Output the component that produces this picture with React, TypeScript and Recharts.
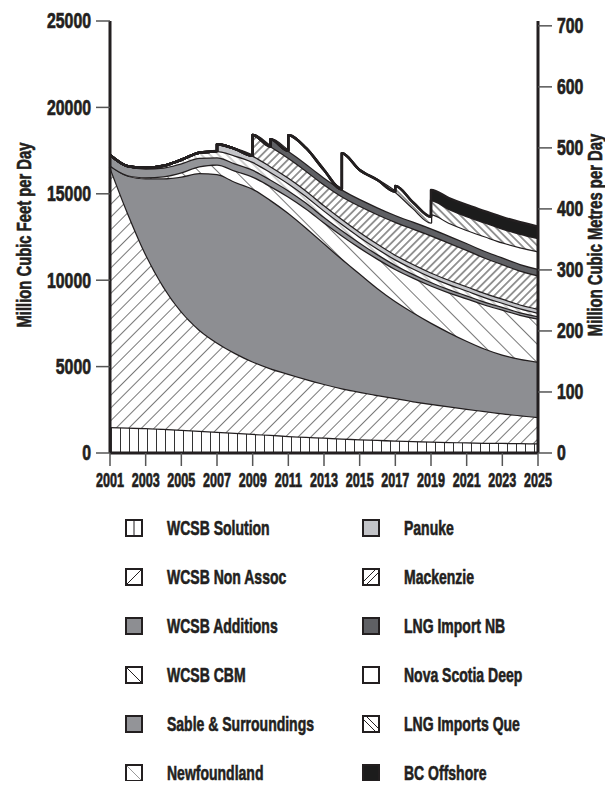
import { AreaChart, Area, XAxis, YAxis } from "recharts";

// supply by source, million cubic feet per day
const YEARS = [
  2001, 2002, 2003, 2004, 2005, 2006, 2007, 2008, 2009, 2010, 2011, 2012, 2013,
  2014, 2015, 2016, 2017, 2018, 2019, 2020, 2021, 2022, 2023, 2024, 2025,
];

const WCSB_SOLUTION = [
  1500, 1480, 1450, 1400, 1350, 1290, 1230, 1170, 1110, 1050, 990, 940, 890,
  840, 800, 760, 720, 690, 660, 640, 620, 600, 590, 575, 560,
];
const WCSB_NON_ASSOC = [
  15070, 12420, 10080, 8250, 6850, 5860, 5170, 4630, 4190, 3850, 3590, 3340,
  3110, 2910, 2750, 2590, 2460, 2310, 2190, 2060, 1940, 1830, 1710, 1615, 1520,
];
const WCSB_ADDITIONS = [
  80, 2150, 4370, 6250, 7800, 9050, 9750, 9900, 10000, 9750, 9320, 8770, 8150,
  7500, 6850, 6200, 5620, 5150, 4700, 4300, 3940, 3620, 3400, 3260, 3200,
];
const WCSB_CBM = [
  0, 30, 60, 120, 250, 400, 550, 650, 700, 800, 950, 1100, 1200, 1350, 1500,
  1700, 1850, 2000, 2150, 2300, 2450, 2550, 2600, 2550, 2500,
];
const SABLE = [
  600, 520, 500, 500, 520, 480, 420, 420, 400, 380, 360, 340, 320, 300, 280,
  260, 240, 220, 200, 190, 180, 170, 160, 150, 140,
];
const NEWFOUNDLAND = [
  0, 0, 50, 100, 200, 300, 350, 450, 450, 430, 400, 380, 370, 360, 340, 330,
  320, 310, 300, 290, 280, 260, 240, 220, 200,
];
const PANUKE = [
  0, 0, 0, 0, 0, 0, 400, 380, 360, 340, 330, 320, 310, 300, 290, 280, 270, 260,
  250, 250, 245, 240, 235, 230, 230,
];
const MACKENZIE = [
  0, 0, 0, 0, 0, 0, 0, 0, 1200, 1150, 1150, 1150, 1200, 1300, 1500, 1700, 1900,
  2050, 2150, 2150, 2100, 2050, 2000, 1960, 1930,
];
const LNG_IMPORT_NB = [
  0, 0, 0, 0, 0, 0, 0, 0, 0, 400, 400, 400, 400, 400, 400, 400, 400, 400, 400,
  400, 400, 390, 390, 380, 380,
];
const NOVA_SCOTIA_DEEP = [
  0, 0, 0, 0, 0, 0, 0, 0, 0, 0, 900, 900, 430, 2080, 1670, 1580, 1340, 780,
  820, 750, 755, 840, 865, 970, 1020,
];
const LNG_IMPORTS_QUE = [
  0, 0, 0, 0, 0, 0, 0, 0, 0, 0, 0, 0, 0, 0, 0, 0, 330, 330, 800, 800, 800, 800,
  800, 780, 760,
];
const BC_OFFSHORE = [
  0, 0, 0, 0, 0, 0, 0, 0, 0, 0, 0, 0, 0, 0, 0, 0, 0, 0, 600, 620, 640, 650,
  660, 660, 660,
];

// values just before a new source comes on stream in that year (vertical steps)
const STEP_BEFORE: Record<number, Record<string, number>> = {
  2007: { panuke: 0 },
  2009: { mackenzie: 0 },
  2010: { lngNB: 0 },
  2011: { nsDeep: 0 },
  2014: { nsDeep: 0 },
  2017: { lngQue: 0 },
  2019: { bcOffshore: 0, nsDeep: 345, lngQue: 330 },
};

const LEFT_TICKS = [0, 5000, 10000, 15000, 20000, 25000];
const RIGHT_TICKS = [0, 100, 200, 300, 400, 500, 600, 700];
const YEAR_TICKS = [2001, 2003, 2005, 2007, 2009, 2011, 2013, 2015, 2017, 2019, 2021, 2023, 2025];

const CF_PER_M3 = 35.3147;
const FONT = "'Liberation Sans', Arial, Helvetica, sans-serif";
const INK = "#231f20";

const SERIES = [
  { key: "solution", name: "WCSB Solution", values: WCSB_SOLUTION, fill: "url(#pSolution)", icon: "#fff", lines: [[9, 1, 9, 17]] },
  { key: "nonAssoc", name: "WCSB Non Assoc", values: WCSB_NON_ASSOC, fill: "url(#pNonAssoc)", icon: "#fff", lines: [[2, 16, 16, 2]] },
  { key: "additions", name: "WCSB Additions", values: WCSB_ADDITIONS, fill: "#8d8e92", icon: "#8d8e92", lines: [] },
  { key: "cbm", name: "WCSB CBM", values: WCSB_CBM, fill: "url(#pCbm)", icon: "#fff", lines: [[2, 2, 16, 16]] },
  { key: "sable", name: "Sable  & Surroundings", values: SABLE, fill: "#939498", icon: "#939498", lines: [] },
  { key: "newfoundland", name: "Newfoundland", values: NEWFOUNDLAND, fill: "url(#pNewf)", icon: "#fff", lines: [[2, 2, 16, 16]], lineColor: "#999" },
  { key: "panuke", name: "Panuke", values: PANUKE, fill: "#c3c4c8", icon: "#c3c4c8", lines: [] },
  { key: "mackenzie", name: "Mackenzie", values: MACKENZIE, fill: "url(#pMack)", icon: "#fff", lines: [[2, 13, 13, 2], [5, 16, 16, 5]] },
  { key: "lngNB", name: "LNG Import NB", values: LNG_IMPORT_NB, fill: "#5f6064", icon: "#5f6064", lines: [] },
  { key: "nsDeep", name: "Nova Scotia Deep", values: NOVA_SCOTIA_DEEP, fill: "#ffffff", icon: "#fff", lines: [] },
  { key: "lngQue", name: "LNG Imports Que", values: LNG_IMPORTS_QUE, fill: "url(#pQue)", icon: "#fff", lines: [[2, 5, 13, 16], [5, 2, 16, 13]] },
  { key: "bcOffshore", name: "BC Offshore", values: BC_OFFSHORE, fill: "#1c1c1c", icon: "#1c1c1c", lines: [] },
];

const rows: Record<string, number>[] = [];
YEARS.forEach((year, i) => {
  const row: Record<string, number> = { year };
  SERIES.forEach((s) => {
    row[s.key] = s.values[i];
  });
  const before = STEP_BEFORE[year];
  if (before) rows.push({ ...row, ...before });
  rows.push(row);
});

const CondTick = (props: any) => {
  const { x, y, payload, textAnchor, size, scale, dy } = props;
  return (
    <g transform={`translate(${x},${y + (dy || 0)}) scale(${scale},1)`}>
      <text
        x={0}
        y={0}
        textAnchor={textAnchor}
        dominantBaseline="central"
        fontSize={size}
        fontWeight="bold"
        fontFamily={FONT}
        fill={INK}
        stroke={INK}
        strokeWidth={0.7}
      >
        {payload.value}
      </text>
    </g>
  );
};

const Hatch = ({ id, gap, angle, color, width }: { id: string; gap: number; angle: number; color: string; width: number }) => (
  <pattern id={id} width={gap} height={gap} patternUnits="userSpaceOnUse" patternTransform={`rotate(${angle})`}>
    <rect width={gap} height={gap} fill="#fff" />
    <line x1={gap / 2} y1={0} x2={gap / 2} y2={gap} stroke={color} strokeWidth={width} />
  </pattern>
);

const textStyle = {
  whiteSpace: "nowrap" as const,
  fontFamily: FONT,
  fontWeight: "bold" as const,
  fontSize: 20,
  color: INK,
  WebkitTextStroke: `0.6px ${INK}`,
};

const LegendItem = ({ s, left, top }: { s: any; left: number; top: number }) => (
  <div style={{ position: "absolute", left, top, height: 18, display: "flex", alignItems: "center" }}>
    <svg width={18} height={18} style={{ display: "block" }}>
      <rect x={1} y={1} width={16} height={16} fill={s.icon} stroke={INK} strokeWidth={2} />
      {s.lines.map((l: number[], i: number) => (
        <line key={i} x1={l[0]} y1={l[1]} x2={l[2]} y2={l[3]} stroke={s.lineColor || INK} strokeWidth={1} />
      ))}
    </svg>
    <span
      style={{
        ...textStyle,
        position: "absolute",
        left: 42,
        top: -3,
        lineHeight: "24px",
        transform: "scaleX(0.7)",
        transformOrigin: "left center",
      }}
    >
      {s.name}
    </span>
  </div>
);

const axisTitle = (left: number, text: string) => (
  <div
    style={{
      ...textStyle,
      position: "absolute",
      left,
      top: 227,
      lineHeight: "20px",
      transform: "translate(-50%,-50%) rotate(-90deg) scaleX(0.74)",
    }}
  >
    {text}
  </div>
);

const LEGEND_TOPS = [511, 560, 609, 658, 707, 756];

export default function App() {
  return (
    <div style={{ position: "relative", width: 597, height: 773 }}>
      <AreaChart width={597} height={500} data={rows} margin={{ top: 13, right: 0, bottom: 0, left: 0 }}>
        <defs>
          <pattern id="pSolution" width={9} height={9} patternUnits="userSpaceOnUse">
            <rect width={9} height={9} fill="#fff" />
            <line x1={4.5} y1={0} x2={4.5} y2={9} stroke="#333" strokeWidth={1} />
          </pattern>
          <Hatch id="pNonAssoc" gap={9} angle={45} color="#555" width={0.8} />
          <Hatch id="pCbm" gap={13} angle={-45} color="#555" width={0.8} />
          <Hatch id="pNewf" gap={6} angle={-45} color="#888" width={0.8} />
          <Hatch id="pMack" gap={5.5} angle={45} color="#333" width={1} />
          <Hatch id="pQue" gap={5.5} angle={-45} color="#333" width={1} />
        </defs>
        <XAxis
          dataKey="year"
          type="number"
          domain={[2001, 2025]}
          ticks={YEAR_TICKS}
          height={55}
          tickSize={13}
          tickMargin={2}
          axisLine={{ stroke: INK, strokeWidth: 3 }}
          tickLine={{ stroke: "#555", strokeWidth: 1.5 }}
          interval={0}
          tick={(p: any) => <CondTick {...p} size={21} scale={0.6} dy={12} />}
        />
        <YAxis
          yAxisId="left"
          width={102}
          domain={[0, 25000]}
          ticks={LEFT_TICKS}
          tickSize={14}
          tickMargin={5}
          axisLine={{ stroke: INK, strokeWidth: 3 }}
          tickLine={{ stroke: "#555", strokeWidth: 1.5 }}
          interval={0}
          tick={(p: any) => <CondTick {...p} size={22} scale={0.72} />}
        />
        <YAxis
          yAxisId="right"
          orientation="right"
          width={67}
          domain={[0, 25000 / CF_PER_M3]}
          ticks={RIGHT_TICKS}
          allowDataOverflow
          tickSize={14}
          tickMargin={5}
          axisLine={{ stroke: INK, strokeWidth: 3 }}
          tickLine={{ stroke: "#555", strokeWidth: 1.5 }}
          interval={0}
          tick={(p: any) => <CondTick {...p} size={22} scale={0.72} />}
        />
        {SERIES.map((s) => (
          <Area
            key={s.key}
            yAxisId="left"
            type="monotone"
            dataKey={s.key}
            name={s.name}
            stackId="supply"
            stroke={INK}
            strokeWidth={2.5}
            strokeLinejoin="round"
            fill={s.fill}
            fillOpacity={1}
            dot={false}
            activeDot={false}
            isAnimationActive={false}
          />
        ))}
      </AreaChart>
      {axisTitle(16, "Million Cubic Feet per Day")}
      {axisTitle(587, "Million Cubic Metres per Day")}
      {SERIES.map((s, i) => (
        <LegendItem key={s.key} s={s} left={i < 6 ? 117 : 354} top={LEGEND_TOPS[i % 6]} />
      ))}
    </div>
  );
}
